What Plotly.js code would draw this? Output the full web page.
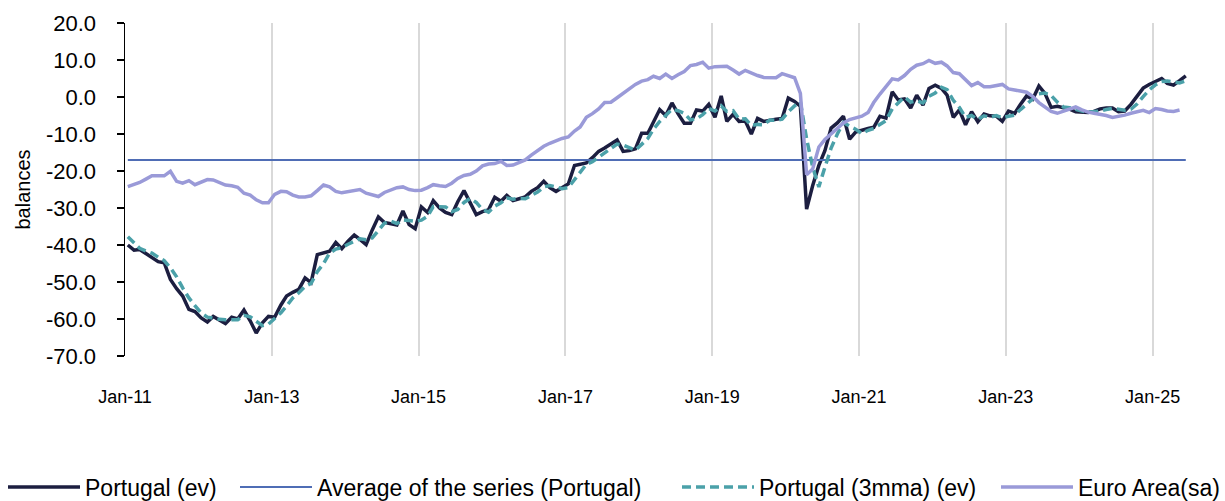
<!DOCTYPE html>
<html><head><meta charset="utf-8">
<script src="https://cdn.plot.ly/plotly-3.0.1.min.js"></script>
<style>html,body{margin:0;padding:0;background:#fff}#chart{width:1225px;height:501px}</style>
</head><body><div id="chart"></div>
<script>
const startYear = 2011;

const portugalEv = [
-40,-41.4,-41.2,-42.3,-43.2,-44.5,-44.8,-49.3,-51.8,-53.8,-57.4,-58,
-59.7,-60.8,-59.3,-60.2,-61.2,-59.5,-60,-57.6,-60.5,-63.8,-61,-59.3,
-59.5,-56.2,-53.8,-52.8,-52,-48.9,-50.2,-42.6,-42.2,-41.7,-39.3,-41,
-39,-37.3,-38.5,-39.9,-36,-32.4,-33.9,-34.2,-34.6,-30.8,-34.5,-35.6,
-29.7,-31.2,-28,-30,-31.2,-31.8,-28.3,-25.3,-28.5,-31.8,-31,-30.5,
-27.1,-28.2,-26.6,-28,-27.5,-27,-25.5,-24.5,-22.8,-24.5,-25.5,-24.5,
-23.5,-18.5,-18.2,-17.8,-16.4,-14.7,-13.8,-12.8,-11.6,-14.7,-14.5,-14,
-9.8,-9.8,-6.5,-3.4,-5,-1.6,-4.5,-7.1,-7.1,-3.5,-3.8,-2,
-5.5,0.3,-6.6,-4.7,-6.6,-6.5,-10,-5.8,-6.6,-6.2,-6,-5.8,
-0.3,-1.2,-2.5,-30.3,-24,-18.5,-14.5,-8.4,-7,-5.2,-11.4,-9.5,
-8.9,-8.5,-8.2,-5.2,-5.7,1.4,-0.8,-0.5,-3,0.5,-2.2,2.3,
3.2,2.3,0.5,-5.5,-3.5,-7.5,-4,-6.7,-4.6,-5.1,-5.2,-6.6,
-3.8,-4.4,-2,0.3,-0.6,3,1,-2.8,-2.5,-2.8,-3.3,-4,
-4,-4.2,-3.9,-3.2,-3,-3,-4,-3.8,-2,0,2.4,3.4,
4.2,5,3.7,3.2,4.4,5.7
];

const portugal3mma = [
-37.8,-39.3,-40.9,-41.6,-42.2,-43.3,-44.2,-46.2,-48.6,-51.6,-54.3,-56.4,
-58.4,-59.5,-59.9,-60.1,-60.2,-60.3,-60.2,-59.0,-59.4,-60.6,-61.8,-61.4,
-59.9,-58.3,-56.5,-54.3,-52.9,-51.2,-50.4,-47.2,-45.0,-42.2,-41.1,-40.7,
-39.8,-39.1,-38.3,-38.6,-38.1,-36.1,-34.1,-33.5,-34.2,-33.2,-33.3,-33.6,
-33.3,-32.2,-29.6,-29.7,-29.7,-31.0,-30.4,-28.5,-27.4,-28.5,-30.4,-31.1,
-29.5,-28.6,-27.3,-27.6,-27.4,-27.5,-26.7,-25.7,-24.3,-23.9,-24.3,-24.8,
-24.5,-22.2,-20.1,-18.2,-17.5,-16.3,-15.0,-13.8,-12.7,-13.0,-13.6,-14.4,
-12.8,-11.2,-8.7,-6.6,-5.0,-3.3,-3.7,-4.4,-6.2,-5.9,-4.8,-3.1,
-3.8,-2.4,-3.9,-3.7,-6.0,-5.9,-7.7,-7.4,-7.5,-6.2,-6.3,-6.0,
-4.0,-2.4,-1.3,-11.3,-18.9,-24.3,-19.0,-13.8,-10.0,-6.9,-7.9,-8.7,
-9.9,-9.0,-8.5,-7.3,-6.4,-3.2,-1.7,0.0,-1.4,-1.0,-1.6,0.2,
1.1,2.6,2.0,-0.9,-2.8,-5.5,-5.0,-6.1,-5.1,-5.5,-5.0,-5.6,
-5.2,-4.9,-3.4,-2.0,-0.8,0.9,1.1,0.4,-1.4,-2.7,-2.9,-3.4,
-3.8,-4.1,-4.0,-3.8,-3.4,-3.1,-3.3,-3.6,-3.3,-1.9,0.1,1.9,
3.3,4.2,4.3,4.0,3.8,4.4
];

const euroArea = [
-24.2,-23.7,-23.1,-22.2,-21.3,-21.3,-21.3,-20.1,-22.8,-23.3,-22.6,-23.7,
-23,-22.3,-22.4,-23,-23.8,-24,-24.4,-26,-26.5,-27.8,-28.6,-28.6,
-26.3,-25.5,-25.6,-26.5,-27,-27,-26.7,-25.3,-23.8,-24.3,-25.5,-25.9,
-25.6,-25.2,-25,-26,-26.4,-26.9,-25.8,-25.2,-24.5,-24.3,-25,-25.3,
-25.2,-24.5,-23.7,-24,-24.2,-23.3,-22,-21.2,-20.9,-20,-18.6,-18.1,
-18,-17.4,-18.5,-18.4,-17.8,-17,-15.7,-14.4,-13.3,-12.5,-11.8,-11.2,
-10.8,-9.2,-8.1,-5.5,-4.5,-3.2,-1.5,-1.4,-0.2,1,2.3,3.4,
4.3,4.7,5.6,5,6.2,5,6,6.9,8.5,8.8,9.4,7.8,
8.2,8.3,8.3,7.3,6.2,7.2,6.4,5.8,5.3,5.2,5.2,6.3,
5.8,5.2,1,-21,-19.5,-13.5,-11.5,-10,-8.5,-7,-6.1,-5.6,
-5.2,-4.2,-1.5,0.8,3,4.9,4.6,5.8,7.5,8.6,9,9.9,
9.1,9.4,8.4,6.6,6.3,4.8,3.1,3.9,2.8,2.8,3.1,3.4,
2.2,1.8,1.6,1.3,0.2,-1.5,-2.8,-3.9,-4.4,-3.9,-3.2,-2.7,
-3.5,-4.1,-4.4,-4.6,-5,-5.5,-5.3,-4.9,-4.4,-3.9,-3.6,-4.2,
-3.1,-3.4,-3.8,-3.9,-3.5
];

const seriesAverage = -17.0;

const xTickYears = [2011,2013,2015,2017,2019,2021,2023,2025];
const xTickLabels = ['Jan-11','Jan-13','Jan-15','Jan-17','Jan-19','Jan-21','Jan-23','Jan-25'];
const yTickValues = [-70,-60,-50,-40,-30,-20,-10,0,10,20];
const yTickLabels = ['-70.0','-60.0','-50.0','-40.0','-30.0','-20.0','-10.0','0.0','10.0','20.0'];

function monthDate(i){
  const y = startYear + Math.floor(i/12);
  const m = i % 12 + 1;
  return y + '-' + String(m).padStart(2,'0') + '-15';
}
const months = portugalEv.map((_, i) => monthDate(i));
const averageLine = months.map(() => seriesAverage);

const FONT = 'Liberation Sans, Arial, sans-serif';

const traces = [
  {x: months, y: portugalEv, name: 'Portugal (ev)', type: 'scatter', mode: 'lines',
   line: {color: '#1c1e40', width: 3.5}, legend: 'legend'},
  {x: months, y: averageLine, name: 'Average of the series (Portugal)', type: 'scatter', mode: 'lines',
   line: {color: '#4f6db5', width: 2}, legend: 'legend2'},
  {x: months, y: portugal3mma, name: 'Portugal (3mma) (ev)', type: 'scatter', mode: 'lines',
   line: {color: '#4ba1a9', width: 3.5, dash: '9px,5px'}, legend: 'legend3'},
  {x: months.slice(0, euroArea.length), y: euroArea, name: 'Euro Area(sa)', type: 'scatter', mode: 'lines',
   line: {color: '#9a9ad8', width: 3.5}, legend: 'legend4'}
];

function legendAt(px){
  return {
    orientation: 'h', xref: 'container', yref: 'container',
    x: px / 1225, xanchor: 'left', y: 14 / 501, yanchor: 'middle',
    font: {size: 23, family: FONT, color: '#000'},
    itemwidth: 72, bgcolor: 'rgba(0,0,0,0)', borderwidth: 0
  };
}

const layout = {
  width: 1225, height: 501,
  margin: {l: 125, r: 36, t: 23, b: 145},
  paper_bgcolor: '#fff', plot_bgcolor: '#fff',
  font: {family: FONT, color: '#000'},
  hovermode: false,
  showlegend: true,
  legend: legendAt(3),
  legend2: legendAt(235),
  legend3: legendAt(677),
  legend4: legendAt(996),
  xaxis: {
    type: 'date', range: ['2011-01-01', '2025-07-01'],
    tickmode: 'array', tickvals: xTickYears.map(y => y + '-01-01'), ticktext: xTickLabels,
    showgrid: true, gridcolor: '#d9d9d9', gridwidth: 2,
    showline: false, zeroline: false, ticks: '',
    tickfont: {size: 18, family: FONT, color: '#000'},
    ticklabelstandoff: 28, fixedrange: true
  },
  yaxis: {
    range: [-70, 20], tickmode: 'array', tickvals: yTickValues, ticktext: yTickLabels,
    showgrid: false, zeroline: false,
    showline: true, linecolor: '#000', linewidth: 1.5,
    ticks: 'outside', ticklen: 7, tickwidth: 1.5, tickcolor: '#000',
    tickfont: {size: 22, family: FONT, color: '#000'},
    ticklabelstandoff: 16,
    title: {text: 'balances', font: {size: 20, family: FONT, color: '#000'}, standoff: 10},
    fixedrange: true
  }
};

Plotly.newPlot('chart', traces, layout, {displayModeBar: false, staticPlot: true});
</script>
</body></html>
